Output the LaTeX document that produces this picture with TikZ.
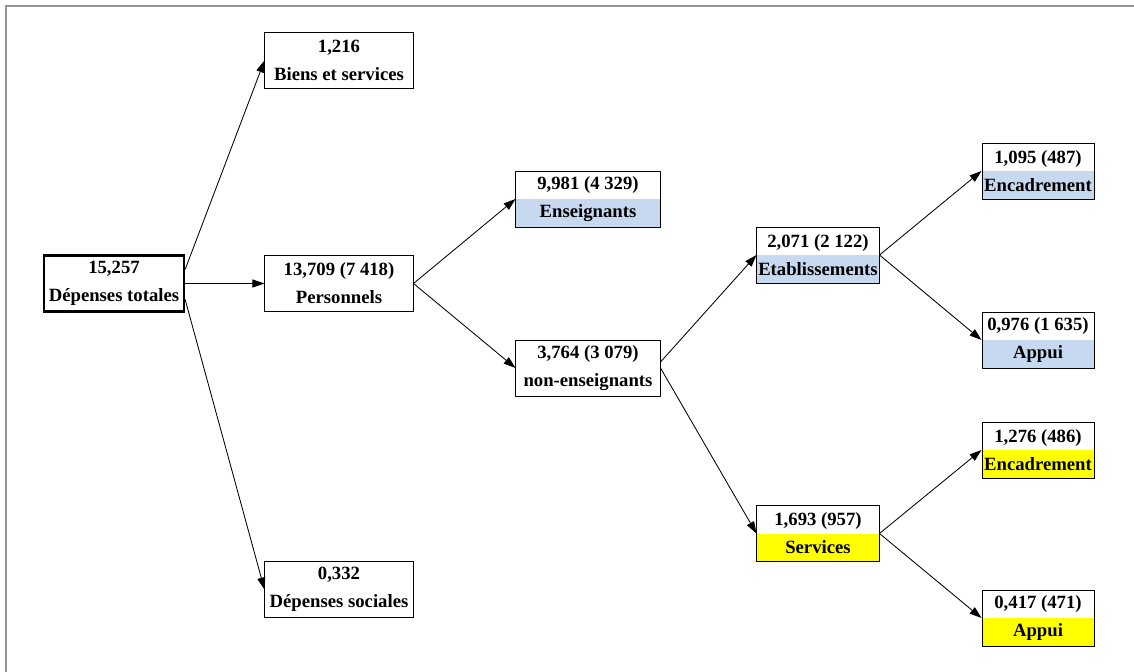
\documentclass[tikz,border=0pt]{standalone}
\usepackage{fontspec}
\setmainfont{Liberation Serif}
\usetikzlibrary{arrows.meta}
\definecolor{boxblue}{RGB}{198,217,240}
\definecolor{boxyellow}{RGB}{255,255,0}
\definecolor{framegray}{RGB}{150,150,150}

\begin{document}
\begin{tikzpicture}[x=0.025cm,y=-0.025cm,
  box/.style={draw,line width=0.7pt,align=center,inner sep=0pt,
    font=\bfseries\fontsize{13.3}{19.8}\selectfont,minimum height=1.4cm},
  bluebox/.style={box,path picture={\fill[boxblue] (path picture bounding box.west)
    rectangle (path picture bounding box.south east);}},
  yellowbox/.style={box,path picture={\fill[boxyellow] (path picture bounding box.west)
    rectangle (path picture bounding box.south east);}},
  arr/.style={-{Triangle[length=3mm,width=2mm]},line width=0.6pt}
]
  \useasboundingbox (0,0) rectangle (1134,672);
  % outer frame (only left and top visible)
  \draw[framegray,line width=1.4pt] (6,672) -- (6,6) -- (1134,6);

  % level 0
  \node[box,line width=1.6pt,minimum width=3.5cm] (total) at (114,283.5) {15,257\\D\'epenses totales};
  % level 1
  \node[box,minimum width=3.7cm] (biens) at (339,60.5) {1,216\\Biens et services};
  \node[box,minimum width=3.7cm] (pers) at (339,283.5) {13,709 (7 418)\\Personnels};
  \node[box,minimum width=3.7cm] (soc) at (339,589.5) {0,332\\D\'epenses sociales};
  % level 2
  \node[bluebox,minimum width=3.6cm] (ens) at (588,199) {9,981 (4 329)\\Enseignants};
  \node[box,minimum width=3.6cm] (nonens) at (588,368) {3,764 (3 079)\\non-enseignants};
  % level 3
  \node[bluebox,minimum width=3.05cm] (etab) at (818,255) {2,071 (2 122)\\Etablissements};
  \node[yellowbox,minimum width=3.05cm] (serv) at (818,533.5) {1,693 (957)\\Services};
  % level 4
  \node[bluebox,minimum width=2.8cm] (encE) at (1038,171) {1,095 (487)\\Encadrement};
  \node[bluebox,minimum width=2.8cm] (appE) at (1038,340) {0,976 (1 635)\\Appui};
  \node[yellowbox,minimum width=2.8cm] (encS) at (1038,450) {1,276 (486)\\Encadrement};
  \node[yellowbox,minimum width=2.8cm] (appS) at (1038,618) {0,417 (471)\\Appui};

  % arrows
  \draw[arr] ([yshift=0.35cm]total.east) -- (biens.west);
  \draw[arr] (total.east) -- (pers.west);
  \draw[arr] ([yshift=-0.4cm]total.east) -- (soc.west);
  \draw[arr] (pers.east) -- (ens.west);
  \draw[arr] (pers.east) -- (nonens.west);
  \draw[arr] ([yshift=0.15cm]nonens.east) -- (etab.west);
  \draw[arr] (nonens.east) -- (serv.west);
  \draw[arr] (etab.east) -- (encE.west);
  \draw[arr] (etab.east) -- (appE.west);
  \draw[arr] (serv.east) -- (encS.west);
  \draw[arr] (serv.east) -- (appS.west);
\end{tikzpicture}
\end{document}
